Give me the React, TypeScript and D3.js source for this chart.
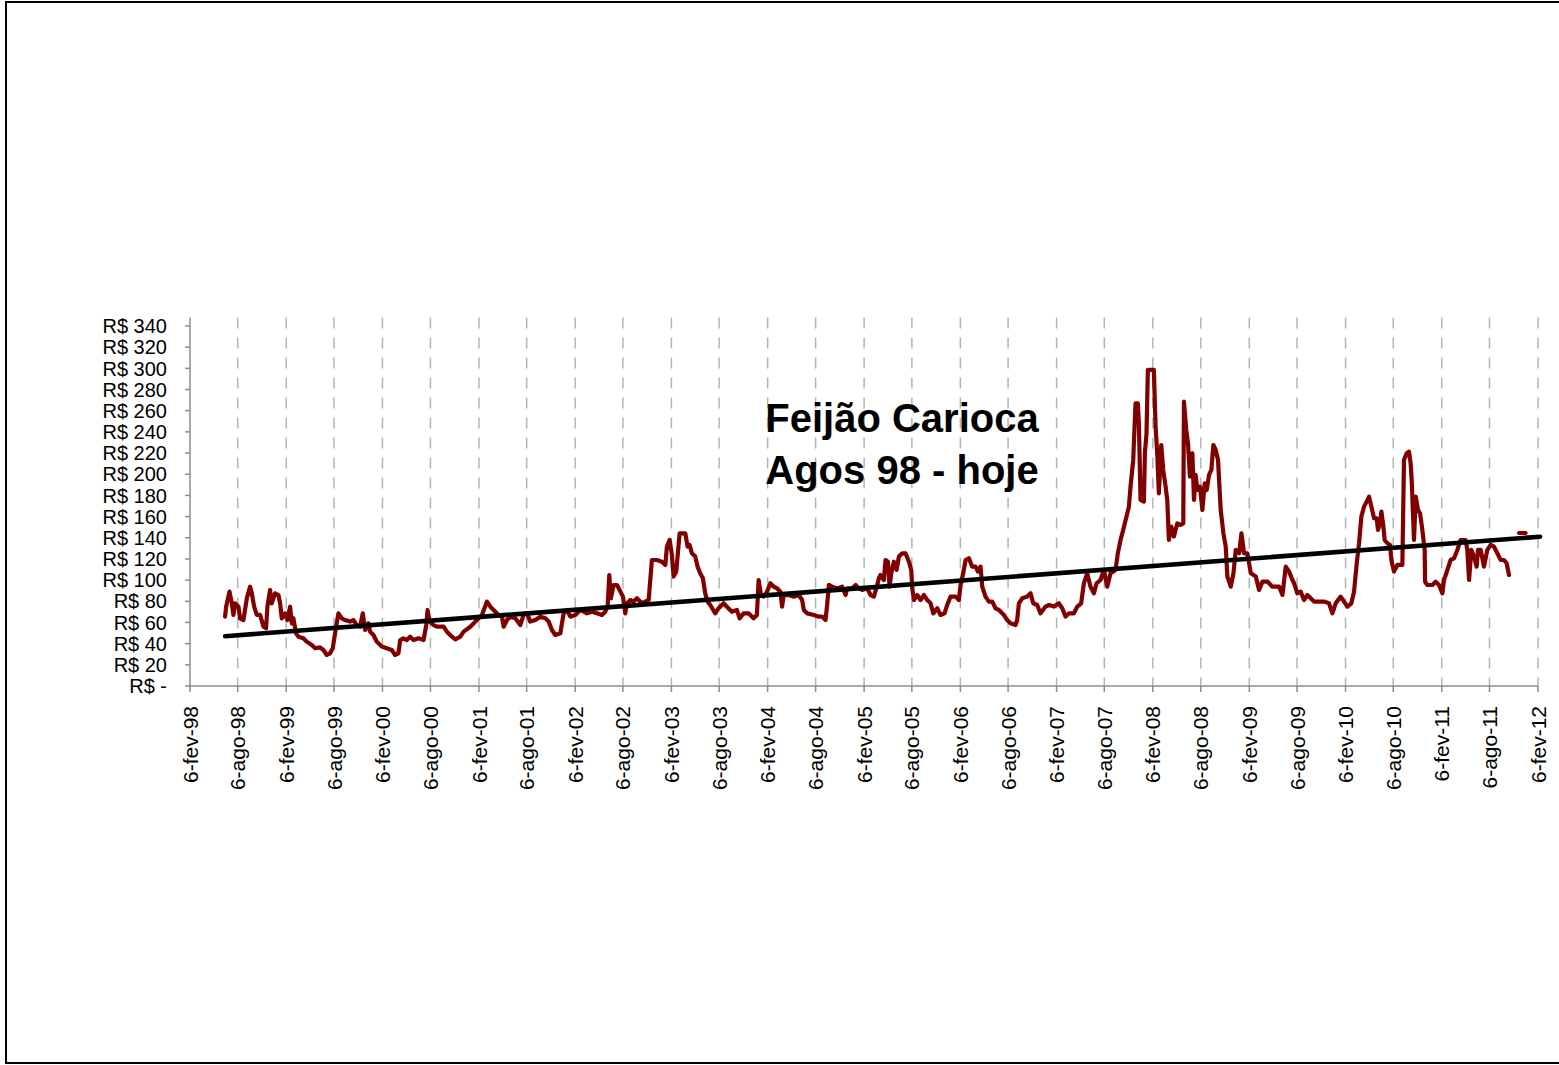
import React from 'react';
import * as d3 from 'd3';

const W = 1559;
const H = 1065;

// ---- Data (decimal year, R$ price) ----
const price1998to2001: [number, number][] = [
  [1998.463,65.5],[1998.474,74.9],[1998.509,89.1],[1998.533,78.1],[1998.550,67.1],[1998.567,78.1],[1998.602,74.9],[1998.619,63.9],[1998.654,62.3],[1998.689,82.8],[1998.723,93.8],[1998.741,87.5],[1998.765,74.9],[1998.793,67.1],[1998.827,67.1],[1998.862,56.0],[1998.889,54.5],[1998.903,74.9],[1998.931,90.7],[1998.948,78.1],[1998.983,87.5],[1999.018,85.9],[1999.035,78.1],[1999.052,63.9],[1999.087,68.6],[1999.111,62.3],[1999.139,74.9],[1999.156,59.2],[1999.173,63.9],[1999.201,49.7],[1999.225,46.6],[1999.277,45.0],[1999.312,41.9],[1999.364,38.7],[1999.399,35.6],[1999.450,36.5],[1999.485,34.0],[1999.520,29.3],[1999.554,30.9],[1999.582,35.6],[1999.606,49.7],[1999.641,68.6],[1999.676,63.9],[1999.710,62.3],[1999.762,60.8],[1999.797,62.3],[1999.831,57.6],[1999.866,56.0],[1999.894,68.6],[1999.918,52.9],[1999.953,59.2],[1999.970,51.3],[2000.005,48.2],[2000.039,41.9],[2000.091,37.2],[2000.143,35.6],[2000.195,34.0],[2000.230,29.3],[2000.264,30.9],[2000.282,43.4],[2000.316,45.0],[2000.351,43.4],[2000.385,46.6],[2000.420,43.4],[2000.472,45.0],[2000.524,43.4],[2000.552,57.6],[2000.566,71.8],[2000.586,60.8],[2000.628,57.6],[2000.663,56.0],[2000.732,56.0],[2000.766,51.3],[2000.818,46.6],[2000.853,44.1],[2000.905,46.6],[2000.940,51.3],[2001.009,56.0],[2001.061,60.8],
];

const price2001to2004: [number, number][] = [
  [2001.130,67.1],[2001.182,79.7],[2001.217,74.9],[2001.251,71.8],[2001.303,67.1],[2001.338,65.5],[2001.355,56.0],[2001.390,62.3],[2001.424,65.5],[2001.476,63.9],[2001.528,57.6],[2001.563,67.1],[2001.598,68.6],[2001.632,60.8],[2001.684,62.3],[2001.736,65.5],[2001.788,63.9],[2001.823,60.8],[2001.857,52.9],[2001.892,48.2],[2001.944,49.7],[2001.961,59.2],[2001.979,68.6],[2002.013,71.8],[2002.048,65.5],[2002.100,67.1],[2002.152,71.8],[2002.221,68.6],[2002.273,70.2],[2002.325,68.6],[2002.377,67.1],[2002.411,70.2],[2002.436,74.9],[2002.453,104.8],[2002.470,82.8],[2002.498,95.4],[2002.533,95.4],[2002.560,90.7],[2002.595,84.4],[2002.619,68.6],[2002.637,78.1],[2002.671,81.2],[2002.706,79.7],[2002.740,82.8],[2002.792,78.1],[2002.827,79.7],[2002.862,81.2],[2002.879,100.1],[2002.896,119.0],[2002.948,119.0],[2003.000,117.4],[2003.035,114.3],[2003.052,131.6],[2003.080,137.9],[2003.104,123.7],[2003.121,103.3],[2003.149,108.0],[2003.184,144.2],[2003.243,144.2],[2003.267,131.6],[2003.288,133.2],[2003.312,125.3],[2003.346,122.2],[2003.371,112.7],[2003.398,106.4],[2003.426,101.7],[2003.450,87.5],[2003.475,79.7],[2003.502,76.5],[2003.554,68.6],[2003.589,73.4],[2003.641,78.1],[2003.675,74.9],[2003.727,70.2],[2003.779,71.8],[2003.807,63.9],[2003.849,68.6],[2003.900,68.6],[2003.952,63.9],[2003.987,67.1],
];

const price2004to2007: [number, number][] = [
  [2004.005,100.1],[2004.030,85.9],[2004.057,84.4],[2004.092,89.1],[2004.127,97.0],[2004.161,93.8],[2004.196,92.2],[2004.231,89.1],[2004.248,75.0],[2004.265,85.9],[2004.317,85.9],[2004.369,84.4],[2004.421,85.9],[2004.456,81.2],[2004.473,71.8],[2004.508,68.6],[2004.577,67.1],[2004.629,65.5],[2004.663,65.5],[2004.698,62.3],[2004.715,76.5],[2004.733,95.4],[2004.767,93.8],[2004.819,92.2],[2004.871,93.8],[2004.906,85.9],[2004.923,92.2],[2004.975,92.2],[2005.010,95.4],[2005.044,92.2],[2005.079,90.7],[2005.131,92.2],[2005.166,85.9],[2005.200,84.4],[2005.235,95.4],[2005.252,101.7],[2005.269,104.8],[2005.304,100.1],[2005.321,119.0],[2005.346,117.4],[2005.363,93.8],[2005.380,106.4],[2005.408,117.4],[2005.436,109.6],[2005.460,122.2],[2005.495,125.3],[2005.529,125.3],[2005.564,117.4],[2005.588,109.6],[2005.599,92.2],[2005.616,81.2],[2005.650,85.9],[2005.685,81.2],[2005.720,85.9],[2005.754,81.2],[2005.789,78.1],[2005.817,68.6],[2005.858,73.4],[2005.893,67.1],[2005.934,68.6],[2005.962,76.5],[2005.997,84.4],[2006.049,84.4],[2006.083,81.2],[2006.101,95.4],[2006.128,106.4],[2006.153,119.0],[2006.187,120.6],[2006.222,112.7],[2006.256,112.7],[2006.281,108.0],[2006.308,112.7],[2006.326,93.8],[2006.360,84.4],[2006.395,79.7],[2006.430,79.7],[2006.464,73.4],[2006.499,71.8],[2006.551,67.1],[2006.585,62.3],[2006.620,59.2],[2006.672,57.6],[2006.689,62.3],[2006.707,78.1],[2006.741,82.8],[2006.793,84.4],[2006.828,87.5],[2006.856,78.1],[2006.897,76.5],[2006.932,68.6],
];

const price2007to2009: [number, number][] = [
  [2006.984,75.0],[2007.019,76.5],[2007.071,75.0],[2007.122,78.1],[2007.157,73.4],[2007.192,65.5],[2007.226,68.6],[2007.278,68.6],[2007.313,75.0],[2007.354,78.1],[2007.382,97.0],[2007.417,106.4],[2007.451,93.8],[2007.486,87.5],[2007.514,97.0],[2007.555,100.1],[2007.590,109.6],[2007.625,93.8],[2007.659,106.4],[2007.711,109.6],[2007.735,125.3],[2007.763,137.9],[2007.791,147.4],[2007.825,160.0],[2007.850,169.4],[2007.867,188.3],[2007.895,213.5],[2007.919,267.0],[2007.943,267.0],[2007.954,248.1],[2007.971,175.7],[2008.006,174.1],[2008.016,219.8],[2008.033,238.6],[2008.047,298.5],[2008.109,298.5],[2008.127,245.0],[2008.144,219.8],[2008.161,182.0],[2008.186,227.6],[2008.206,204.0],[2008.231,188.3],[2008.248,175.7],[2008.265,137.9],[2008.290,150.5],[2008.317,141.1],[2008.352,153.6],[2008.386,152.1],[2008.414,153.6],[2008.421,268.5],[2008.445,241.8],[2008.463,229.2],[2008.483,197.7],[2008.508,219.8],[2008.525,175.7],[2008.542,199.3],[2008.560,185.1],[2008.587,188.3],[2008.612,166.2],[2008.636,191.4],[2008.657,185.1],[2008.681,199.3],[2008.705,204.0],[2008.726,227.6],[2008.750,222.9],[2008.774,213.5],[2008.802,166.2],[2008.830,144.2],[2008.854,131.6],[2008.871,103.3],[2008.906,93.8],[2008.934,106.4],[2008.958,128.5],[2008.993,125.3],[2009.017,144.2],[2009.044,125.3],[2009.079,125.3],[2009.114,106.4],[2009.166,103.3],[2009.200,90.7],[2009.235,98.6],[2009.287,98.6],[2009.339,93.8],[2009.408,93.8],[2009.443,86.0],[2009.477,112.7],[2009.512,108.0],[2009.547,100.1],
];

const price2009to2011: [number, number][] = [
  [2009.564,97.0],[2009.598,87.5],[2009.633,89.1],[2009.667,81.2],[2009.702,86.0],[2009.771,79.7],[2009.875,79.7],[2009.927,78.1],[2009.962,68.6],[2009.996,78.1],[2010.048,84.4],[2010.083,79.7],[2010.118,74.9],[2010.159,78.1],[2010.187,89.1],[2010.215,115.9],[2010.239,134.8],[2010.263,160.0],[2010.291,169.4],[2010.318,174.1],[2010.343,178.8],[2010.367,169.4],[2010.395,158.4],[2010.422,158.4],[2010.436,147.4],[2010.457,153.6],[2010.471,164.7],[2010.492,150.5],[2010.505,137.9],[2010.533,134.8],[2010.561,133.2],[2010.575,119.0],[2010.602,108.0],[2010.637,114.3],[2010.689,114.3],[2010.706,213.5],[2010.734,219.8],[2010.758,221.3],[2010.775,210.3],[2010.786,194.6],[2010.810,137.9],[2010.828,178.8],[2010.852,166.2],[2010.873,163.1],[2010.897,147.4],[2010.921,128.5],[2010.925,98.5],[2010.949,95.4],[2011.001,95.4],[2011.035,98.5],[2011.070,95.4],[2011.105,87.5],[2011.122,100.1],[2011.157,109.6],[2011.191,119.0],[2011.226,120.6],[2011.261,128.5],[2011.295,137.9],[2011.347,137.9],[2011.364,128.5],[2011.382,100.1],[2011.406,128.5],[2011.434,122.2],[2011.461,112.7],[2011.475,128.5],[2011.503,128.5],[2011.537,112.7],[2011.572,128.5],[2011.607,133.2],[2011.641,131.6],[2011.676,125.3],[2011.711,119.0],[2011.745,119.0],[2011.773,115.9],[2011.797,104.8],
];

const priceTail: [number, number][] = [[2011.901,144.5],[2011.970,144.5]];

const trendYears = [1998.464, 2012.12];
const trendValues = [47, 141];

const xTickDates = [
  '1998-02-06','1998-08-06','1999-02-06','1999-08-06','2000-02-06','2000-08-06','2001-02-06','2001-08-06',
  '2002-02-06','2002-08-06','2003-02-06','2003-08-06','2004-02-06','2004-08-06','2005-02-06','2005-08-06',
  '2006-02-06','2006-08-06','2007-02-06','2007-08-06','2008-02-06','2008-08-06','2009-02-06','2009-08-06',
  '2010-02-06','2010-08-06','2011-02-06','2011-08-06','2012-02-06',
];
const xTickLabels = [
  '6-fev-98','6-ago-98','6-fev-99','6-ago-99','6-fev-00','6-ago-00','6-fev-01','6-ago-01',
  '6-fev-02','6-ago-02','6-fev-03','6-ago-03','6-fev-04','6-ago-04','6-fev-05','6-ago-05',
  '6-fev-06','6-ago-06','6-fev-07','6-ago-07','6-fev-08','6-ago-08','6-fev-09','6-ago-09',
  '6-fev-10','6-ago-10','6-fev-11','6-ago-11','6-fev-12',
];
const yTickValues = [0,20,40,60,80,100,120,140,160,180,200,220,240,260,280,300,320,340];
const yTickLabels = yTickValues.map((v) => (v === 0 ? 'R$ -' : `R$ ${v}`));

const titleLines = ['Feijão Carioca', 'Agos 98 - hoje'];

// ---- helpers ----
const parseDay = d3.timeParse('%Y-%m-%d');
const yearToDate = (y: number): Date => {
  const yr = Math.floor(y);
  const s = new Date(yr, 0, 1).getTime();
  const e = new Date(yr + 1, 0, 1).getTime();
  return new Date(s + (y - yr) * (e - s));
};

const FONT = '"Liberation Sans", Arial, sans-serif';

export default function App() {
  const left = 190, right = 1538, top = 317.5, bottom = 686;
  const x = d3.scaleTime()
    .domain([parseDay('1998-02-06') as Date, parseDay('2012-02-06') as Date])
    .range([left, right]);
  const y = d3.scaleLinear().domain([0, 348]).range([bottom, top]);

  const line = d3.line<[number, number]>()
    .x((d) => x(yearToDate(d[0])))
    .y((d) => y(d[1]));

  const price = [
    ...price1998to2001, ...price2001to2004, ...price2004to2007,
    ...price2007to2009, ...price2009to2011,
  ];
  const trend: [number, number][] = trendYears.map((t, i) => [t, trendValues[i]]);
  const tickDates = xTickDates.map((s) => parseDay(s) as Date);

  const axisColor = '#8c8c8c';

  return (
    <svg width={W} height={H} style={{ position: 'absolute', left: 0, top: 0, background: '#fff' }}>
      <rect x={0} y={0} width={W} height={H} fill="#fff" />
      <rect x={6} y={2} width={W + 10} height={1061} fill="none" stroke="#000" strokeWidth={2} />

      {/* vertical dashed gridlines */}
      {tickDates.slice(1).map((d, i) => (
        <line key={'g' + i} x1={x(d)} x2={x(d)} y1={top} y2={bottom}
          stroke="#b4b4b4" strokeWidth={1.5} strokeDasharray="11 9" />
      ))}

      {/* y axis */}
      <line x1={left} x2={left} y1={top} y2={bottom} stroke={axisColor} strokeWidth={1.5} />
      {yTickValues.map((v, i) => (
        <g key={'y' + i}>
          <line x1={left - 5} x2={left} y1={y(v)} y2={y(v)} stroke={axisColor} strokeWidth={1.5} />
          <text x={167} y={y(v)} dy="0.36em" textAnchor="end" fontFamily={FONT} fontSize={20} fill="#000">
            {yTickLabels[i]}
          </text>
        </g>
      ))}

      {/* x axis */}
      <line x1={left} x2={right} y1={bottom} y2={bottom} stroke={axisColor} strokeWidth={1.5} />
      {tickDates.map((d, i) => (
        <g key={'x' + i}>
          <line x1={x(d)} x2={x(d)} y1={bottom} y2={bottom + 6} stroke={axisColor} strokeWidth={1.5} />
          <text transform={`translate(${x(d)},${bottom + 20}) rotate(-90)`} dy="0.36em"
            textAnchor="end" fontFamily={FONT} fontSize={21} fill="#000">
            {xTickLabels[i]}
          </text>
        </g>
      ))}

      {/* price series */}
      <path d={line(price) || ''} fill="none" stroke="#800000" strokeWidth={4.2}
        strokeLinejoin="round" strokeLinecap="round" />
      <path d={line(priceTail) || ''} fill="none" stroke="#800000" strokeWidth={4.2}
        strokeLinejoin="round" strokeLinecap="round" />

      {/* linear trend */}
      <path d={line(trend) || ''} fill="none" stroke="#000" strokeWidth={4.6} strokeLinecap="round" />

      {/* title */}
      {titleLines.map((t, i) => (
        <text key={'t' + i} x={902} y={432 + i * 52} textAnchor="middle" fontFamily={FONT}
          fontWeight="bold" fontSize={40} fill="#000">
          {t}
        </text>
      ))}
    </svg>
  );
}
